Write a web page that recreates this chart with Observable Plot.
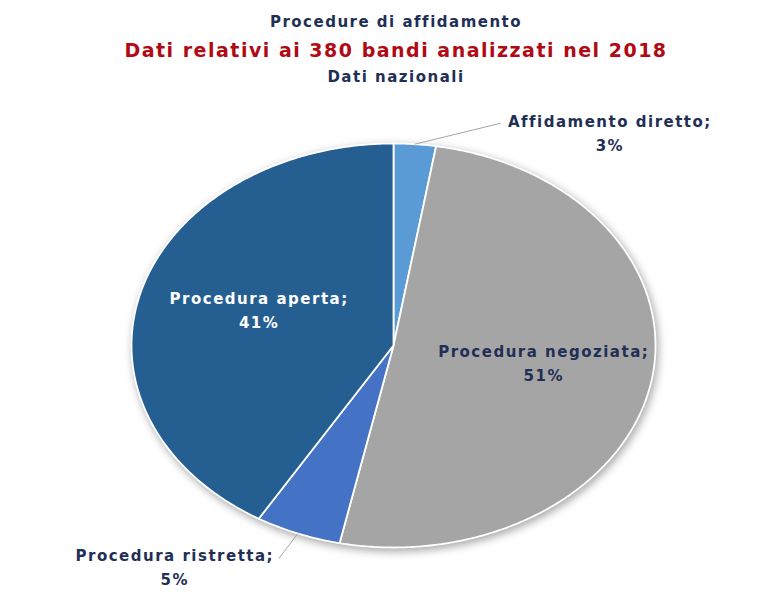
<!DOCTYPE html>
<html>
<head>
<meta charset="utf-8">
<script src="https://cdn.jsdelivr.net/npm/d3@7"></script>
<script src="https://cdn.jsdelivr.net/npm/@observablehq/plot@0.6"></script>
<style>
  body { margin: 0; background: #fff; font-family: "DejaVu Sans", sans-serif; }
  #wrap { width: 768px; }
  #titles { position: relative; height: 95px; width: 768px; }
  #titles div { position: absolute; left: 24px; right: 0; text-align: center; font-weight: bold; white-space: nowrap; letter-spacing: 1.5px; }
  #t1 { top: 12px; font-size: 15px; line-height: 20px; color: #1f2f55; }
  #t2 { top: 37px; font-size: 19px; line-height: 26px; color: #b00a14; }
  #t3 { top: 67px; font-size: 15px; line-height: 20px; color: #1f2f55; }
  #chart svg text { letter-spacing: 1.5px; }
  #chart svg g[aria-label="line"] { filter: drop-shadow(2px 3px 4px rgba(0,0,0,0.35)); }
</style>
</head>
<body>
<div id="wrap">
  <div id="titles">
    <div id="t1">Procedure di affidamento</div>
    <div id="t2">Dati relativi ai 380 bandi analizzati nel 2018</div>
    <div id="t3">Dati nazionali</div>
  </div>
  <div id="chart"></div>
</div>
<script>
// ---- data (percentages; labels show them rounded) ----
const categories = ["Affidamento diretto", "Procedura negoziata", "Procedura ristretta", "Procedura aperta"];
const percentages = [2.6, 50.7, 5.3, 41.4];
const sliceColors = ["#5b9bd5", "#a5a5a5", "#4472c4", "#255e91"];

// ---- label layout (styles/positions, not data) ----
const labelInside = [false, true, false, true];
const labelColors = ["#1f2f55", "#1f2f55", "#1f2f55", "#ffffff"];
// outside labels: leader end offset from slice edge (px), text offset from leader end (px)
const leaderOffset = [[86, -21], null, [-19, 25], null];
const textOffset = [[109, 8], null, [-104, 7], null];
// inside labels: small pixel nudge
const insideShift = [null, [6, -5], null, [7, -7]];
const insideRadius = 0.56;

const W = 768, H = 505;
const xRange = [131, 655];   // ellipse horizontal extent
const yRange = [452, 48];    // ellipse vertical extent (y up)
const rxPx = (xRange[1] - xRange[0]) / 2;
const ryPx = (yRange[0] - yRange[1]) / 2;

const total = d3.sum(percentages);
const slices = [];
let acc = 0;
categories.forEach((c, i) => {
  const a0 = acc / total * 2 * Math.PI;
  acc += percentages[i];
  const a1 = acc / total * 2 * Math.PI;
  slices.push({category: c, value: percentages[i], a0, a1, mid: (a0 + a1) / 2, i});
});

// polygon points for each slice
const pts = [];
for (const s of slices) {
  pts.push({category: s.category, x: 0, y: 0});
  const n = Math.max(2, Math.ceil((s.a1 - s.a0) / (Math.PI / 360)));
  for (let k = 0; k <= n; k++) {
    const a = s.a0 + (s.a1 - s.a0) * k / n;
    pts.push({category: s.category, x: Math.sin(a), y: Math.cos(a)});
  }
}

const fmt = v => `${Math.round(v)}%`;

const insideLabels = slices.filter(s => labelInside[s.i]).map(s => {
  const [sx, sy] = insideShift[s.i];
  return {
    text: `${s.category};\n${fmt(s.value)}`,
    x: insideRadius * Math.sin(s.mid) + sx / rxPx,
    y: insideRadius * Math.cos(s.mid) - sy / ryPx,
    color: labelColors[s.i]
  };
});

const outside = slices.filter(s => !labelInside[s.i]).map(s => {
  const ex = Math.sin(s.mid), ey = Math.cos(s.mid);
  const [ox, oy] = leaderOffset[s.i];
  const [tx, ty] = textOffset[s.i];
  return {
    text: `${s.category};\n${fmt(s.value)}`,
    x1: ex, y1: ey,
    x2: ex + ox / rxPx, y2: ey - oy / ryPx,
    tx: ex + (ox + tx) / rxPx, ty: ey - (oy + ty) / ryPx,
    color: labelColors[s.i]
  };
});

const chart = Plot.plot({
  width: W,
  height: H,
  margin: 0,
  style: {fontFamily: "DejaVu Sans, sans-serif", background: "#fff"},
  x: {domain: [-1, 1], range: xRange, axis: null},
  y: {domain: [-1, 1], range: yRange, axis: null},
  color: {domain: categories, range: sliceColors},
  marks: [
    Plot.line(pts, {x: "x", y: "y", z: "category", fill: "category", stroke: "#ffffff", strokeWidth: 1.8, curve: "linear-closed"}),
    Plot.link(outside, {x1: "x1", y1: "y1", x2: "x2", y2: "y2", stroke: "#a6a6a6", strokeWidth: 1}),
    Plot.text(insideLabels, {x: "x", y: "y", text: "text", fill: d => d.color, fontSize: 15, fontWeight: "bold", lineHeight: 1.6}),
    Plot.text(outside, {x: "tx", y: "ty", text: "text", fill: d => d.color, fontSize: 15, fontWeight: "bold", lineHeight: 1.6})
  ]
});
document.getElementById("chart").appendChild(chart);
</script>
</body>
</html>
